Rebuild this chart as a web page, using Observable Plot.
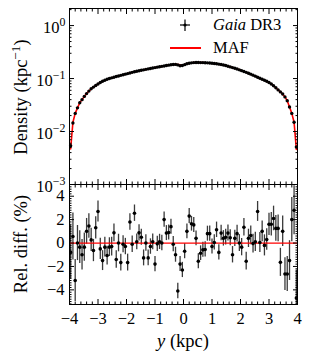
<!DOCTYPE html>
<html><head><meta charset="utf-8">
<script src="https://cdn.jsdelivr.net/npm/d3@7"></script>
<script src="https://cdn.jsdelivr.net/npm/@observablehq/plot@0.6"></script>
<style>
body{margin:0;background:#fff;}
#chart{position:relative;width:313px;height:354px;overflow:hidden;background:#fff;}
#chart svg{position:absolute;left:0;overflow:visible;}
</style></head><body><div id="chart"></div>
<script>
// bin centres (kpc), 0.08 kpc bins from -4 to 4
const binCenters = d3.range(100).map(i => +(-3.96 + 0.08 * i).toFixed(2));

// Gaia DR3 density (kpc^-1)
const density = [
0.0054,0.0145,0.022,0.028,0.035,0.040,0.046,0.052,0.058,0.064,
0.069,0.074,0.079,0.084,0.089,0.093,0.097,0.100,0.103,0.106,
0.109,0.112,0.115,0.118,0.121,0.124,0.127,0.131,0.134,0.137,
0.140,0.143,0.146,0.149,0.152,0.155,0.158,0.161,0.164,0.167,
0.170,0.173,0.176,0.179,0.182,0.184,0.185,0.181,0.174,0.176,
0.183,0.190,0.195,0.198,0.200,0.201,0.201,0.200,0.200,0.199,
0.198,0.196,0.194,0.192,0.190,0.187,0.184,0.180,0.176,0.171,
0.166,0.161,0.156,0.151,0.146,0.141,0.136,0.131,0.126,0.121,
0.116,0.111,0.106,0.101,0.097,0.093,0.089,0.084,0.079,0.073,
0.067,0.061,0.056,0.051,0.045,0.038,0.029,0.022,0.015,0.0051];

// MAF model density (kpc^-1)
const mafDensity = [
0.0047,0.0150,0.022,0.028,0.035,0.040,0.046,0.052,0.058,0.064,
0.069,0.074,0.079,0.084,0.089,0.093,0.097,0.100,0.103,0.106,
0.109,0.112,0.115,0.118,0.121,0.124,0.127,0.131,0.134,0.137,
0.140,0.143,0.146,0.149,0.152,0.155,0.158,0.161,0.164,0.167,
0.170,0.173,0.176,0.179,0.182,0.184,0.186,0.184,0.181,0.180,
0.184,0.190,0.195,0.198,0.200,0.201,0.201,0.200,0.200,0.199,
0.198,0.196,0.194,0.192,0.190,0.187,0.184,0.180,0.176,0.171,
0.166,0.161,0.156,0.151,0.146,0.141,0.136,0.131,0.126,0.121,
0.116,0.111,0.106,0.101,0.097,0.093,0.089,0.084,0.079,0.073,
0.067,0.061,0.056,0.051,0.045,0.038,0.029,0.022,0.015,0.0046];

// relative difference (%) and its 1-sigma error
const relDiff = [
-0.8,0.56,-3.2,0,-0.35,-1.0,-0.35,1.0,1.45,0.27,
-0.64,1.3,2.7,-0.5,-1.5,-0.35,-1.07,-0.35,-0.3,0.87,
-1.4,0,-1.67,-0.1,-0.3,-1.67,1.8,-0.1,2.55,0.1,
0.87,0.5,-1.27,0,-1.27,-0.3,0.1,-1.8,-0.07,0.1,
0,2.0,0.85,0.9,1.4,-0.1,-1.0,-4.1,-1.8,-2.3,
-0.7,1.0,2.3,1.65,1.55,0.4,-1.55,-0.87,-0.58,-0.55,
0.8,0.8,-0.3,0.05,1.13,-0.8,0.85,0.4,0.5,0.85,
0.45,-1.0,0.4,0.8,0,-0.35,1.35,-1.55,0.4,0.65,
-0.05,0.1,2.7,0.05,1.0,-0.2,0.3,1.6,1.6,2.1,
1.25,1.25,-1.65,1.0,-2.65,-2.65,-1.5,2.0,2.8,-4.7];

const relErr = [
2.3,2.0,1.8,1.5,1.4,1.3,1.2,1.1,1.05,1.0,
0.95,0.95,0.9,0.9,0.85,0.85,0.8,0.8,0.8,0.75,
0.75,0.75,0.72,0.72,0.7,0.72,0.7,0.7,0.7,0.68,
0.7,0.68,0.68,0.7,0.68,0.66,0.68,0.66,0.66,0.65,
0.66,0.65,0.64,0.65,0.64,0.65,0.64,0.66,0.64,0.65,
0.64,0.63,0.64,0.63,0.64,0.63,0.64,0.63,0.64,0.65,
0.64,0.65,0.64,0.65,0.66,0.65,0.66,0.66,0.67,0.68,
0.68,0.7,0.7,0.72,0.72,0.74,0.75,0.76,0.78,0.8,
0.8,0.82,0.85,0.85,0.88,0.9,0.92,0.95,1.0,1.05,
1.1,1.15,1.2,1.3,1.4,1.5,1.7,1.9,2.1,2.4];

// tick values
const xMajor = [-4,-3,-2,-1,0,1,2,3,4];
const xMinor = d3.range(-40, 41, 2).filter(d => d % 10 !== 0).map(d => d / 10);
const logMajor = [1e-3, 1e-2, 1e-1, 1];
const logMinor = [];
for (const k of [-3,-2,-1,0]) for (let m = 2; m <= 9; m++) { const v = m * Math.pow(10, k); if (v <= 2.1) logMinor.push(v); }
const relMajor = [-4,-2,0,2,4];
const relMinor = d3.range(-26, 26).map(d => d / 5).filter(d => Math.abs(d % 2) > 1e-9);

const rows = binCenters.map((y, i) => ({y, density: density[i], maf: mafDensity[i], rel: relDiff[i], err: relErr[i]}));

const FONT = "'Liberation Serif', 'DejaVu Serif', serif";
const fmtSigned = d => d < 0 ? "\u2212" + Math.abs(d) : String(d);
const MAJ = 5, MIN = 2.5;

function ticksX(values, size) {
  return [
    Plot.axisX(values, {anchor: "bottom", tickSize: size, dy: -size, fill: "none", label: null}),
    Plot.axisX(values, {anchor: "top", tickSize: size, dy: size, fill: "none", label: null})
  ];
}
function ticksY(values, size) {
  return [
    Plot.axisY(values, {anchor: "left", tickSize: size, dx: size, fill: "none", label: null}),
    Plot.axisY(values, {anchor: "right", tickSize: size, dx: -size, fill: "none", label: null})
  ];
}

const topPlot = Plot.plot({
  width: 313, height: 184,
  marginLeft: 69, marginRight: 16, marginTop: 8, marginBottom: 0,
  style: {fontFamily: FONT, fontSize: "16.5px", color: "black", background: "transparent", overflow: "visible"},
  x: {domain: [-4, 4]},
  y: {type: "log", domain: [1e-3, 2.1]},
  marks: [
    Plot.line(rows, {x: "y", y: "maf", stroke: "red", strokeWidth: 1.6}),
    Plot.dot(rows, {x: "y", y: "density", r: 1.7, fill: "black", stroke: "none"}),
    Plot.frame({stroke: "black", strokeWidth: 1}),
    ...ticksX(xMajor, MAJ), ...ticksX(xMinor, MIN),
    ...ticksY(logMajor, MAJ), ...ticksY(logMinor, MIN),
    Plot.axisY(logMajor, {anchor: "left", tickSize: 0, tickPadding: 4, label: null,
      tickFormat: d => "10^" + Math.round(Math.log10(d))})
  ]
});

const botPlot = Plot.plot({
  width: 313, height: 170,
  marginLeft: 69, marginRight: 16, marginTop: 0, marginBottom: 50,
  style: {fontFamily: FONT, fontSize: "16.5px", color: "black", background: "transparent", overflow: "visible"},
  x: {domain: [-4, 4]},
  y: {domain: [-5.25, 5]},
  marks: [
    Plot.ruleX(rows, {x: "y", y1: d => d.rel - d.err, y2: d => d.rel + d.err, stroke: "#3a3a3a", strokeWidth: 1.3, clip: true}),
    Plot.ruleY([0], {stroke: "red", strokeWidth: 1.3}),
    Plot.dot(rows, {x: "y", y: "rel", r: 1.8, fill: "black", stroke: "none", clip: true}),
    Plot.frame({stroke: "black", strokeWidth: 1}),
    ...ticksX(xMajor, MAJ), ...ticksX(xMinor, MIN),
    ...ticksY(relMajor, MAJ), ...ticksY(relMinor, MIN),
    Plot.axisY(relMajor, {anchor: "left", tickSize: 0, tickPadding: 5, label: null, tickFormat: fmtSigned}),
    Plot.axisX(xMajor, {anchor: "bottom", tickSize: 0, tickPadding: 8, label: null, tickFormat: fmtSigned})
  ]
});

const chart = document.getElementById("chart");
topPlot.style.top = "0px";
botPlot.style.top = "184px";
chart.appendChild(botPlot);
chart.appendChild(topPlot);

// superscript exponents on the log axis
d3.select(topPlot).selectAll("text").each(function () {
  const m = /^10\^(-?\d+)$/.exec(this.textContent);
  if (!m) return;
  const e = +m[1];
  const sel = d3.select(this);
  const tr = this.getAttribute("transform") || "";
  sel.text("10").attr("transform", tr + " translate(0,2)");
  sel.append("tspan").attr("dy", "-0.55em").attr("font-size", "0.72em").text(e < 0 ? "\u2212" + (-e) : String(e));
});

// axis titles
const ts = d3.select(topPlot);
const t1 = ts.append("text").attr("transform", "translate(27,97) rotate(-90)")
  .attr("text-anchor", "middle").attr("font-family", FONT).attr("font-size", 18.5).attr("fill", "black");
t1.append("tspan").text("Density (kpc");
t1.append("tspan").attr("dy", "-0.5em").attr("font-size", "0.72em").text("\u22121");
t1.append("tspan").attr("dy", "0.36em").text(")");

// legend
ts.append("line").attr("x1", 180).attr("x2", 190).attr("y1", 25).attr("y2", 25).attr("stroke", "black").attr("stroke-width", 1.2);
ts.append("line").attr("x1", 185).attr("x2", 185).attr("y1", 19.5).attr("y2", 31).attr("stroke", "black").attr("stroke-width", 1.2);
ts.append("circle").attr("cx", 185).attr("cy", 25).attr("r", 1.6).attr("fill", "black");
const lg1 = ts.append("text").attr("x", 213).attr("y", 30).attr("text-anchor", "start")
  .attr("font-family", FONT).attr("font-size", 16.5).attr("fill", "black");
lg1.append("tspan").attr("font-style", "italic").text("Gaia");
lg1.append("tspan").text(" DR3");
ts.append("line").attr("x1", 170).attr("x2", 201).attr("y1", 48).attr("y2", 48).attr("stroke", "red").attr("stroke-width", 2);
ts.append("text").attr("x", 213).attr("y", 53).attr("text-anchor", "start")
  .attr("font-family", FONT).attr("font-size", 16.5).attr("fill", "black").text("MAF");

const bs = d3.select(botPlot);
bs.append("text").attr("transform", "translate(27,60) rotate(-90)")
  .attr("text-anchor", "middle").attr("font-family", FONT).attr("font-size", 18.5).attr("fill", "black")
  .text("Rel. diff. (%)");
const xl = bs.append("text").attr("x", 183).attr("y", 163).attr("text-anchor", "middle")
  .attr("font-family", FONT).attr("font-size", 18.5).attr("fill", "black");
xl.append("tspan").attr("font-style", "italic").text("y");
xl.append("tspan").text(" (kpc)");
</script></body></html>
